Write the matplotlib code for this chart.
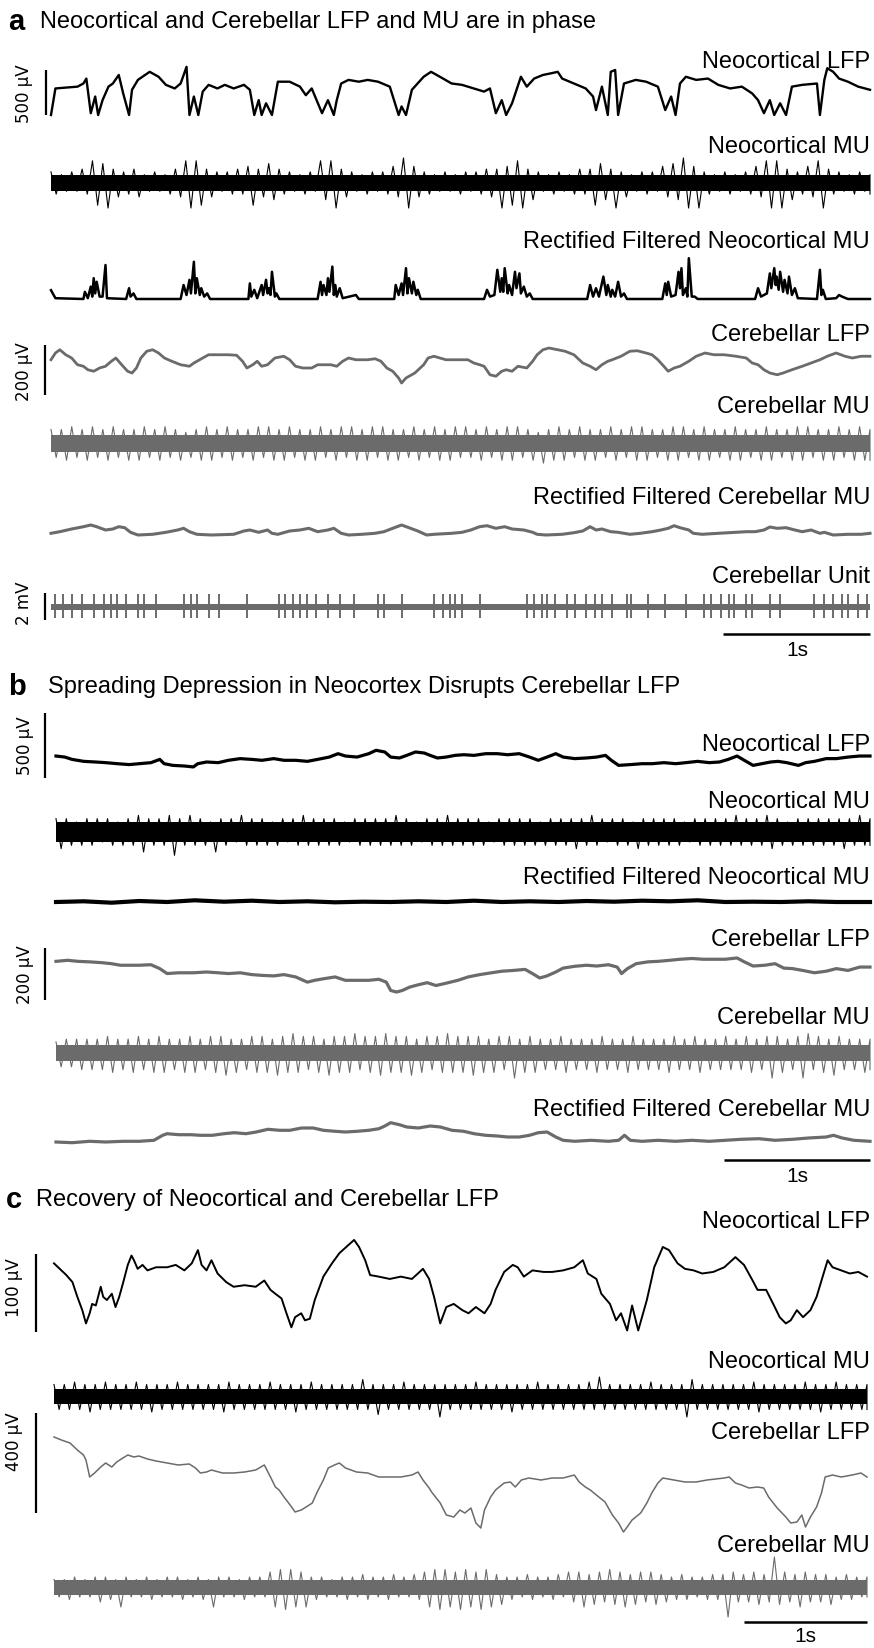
import numpy as np
import matplotlib
matplotlib.use('Agg')
import matplotlib.pyplot as plt
from matplotlib import font_manager

# ---------------- data ----------------
# panel a: neocortical LFP (s, uV)
a_neo_lfp_t = [0.00, 0.03, 0.18, 0.22, 0.24, 0.27, 0.30, 0.32, 0.35, 0.39, 0.42, 0.46, 0.49, 0.53, 0.55,
               0.59, 0.67, 0.73, 0.78, 0.84, 0.88, 0.92, 0.94, 0.97, 1.00, 1.03, 1.07, 1.13, 1.18, 1.24,
               1.31, 1.35, 1.38, 1.41, 1.43, 1.46, 1.50, 1.54, 1.62, 1.69, 1.73, 1.77, 1.84, 1.88, 1.92,
               1.94, 1.97, 2.02, 2.09, 2.15, 2.22, 2.30, 2.36, 2.38, 2.41, 2.45, 2.53, 2.58, 2.64, 2.72,
               2.79, 2.87, 2.94, 2.98, 3.02, 3.06, 3.09, 3.13, 3.19, 3.23, 3.28, 3.34, 3.40, 3.44, 3.47,
               3.55, 3.63, 3.68, 3.70, 3.74, 3.78, 3.80, 3.83, 3.85, 3.89, 3.97, 4.04, 4.12, 4.17, 4.21,
               4.24, 4.27, 4.31, 4.38, 4.46, 4.53, 4.61, 4.69, 4.76, 4.80, 4.84, 4.88, 4.91, 4.95, 4.99,
               5.03, 5.10, 5.20, 5.22, 5.25, 5.27, 5.31, 5.35, 5.41, 5.48, 5.56]
a_neo_lfp_v = [0, 295, 315, 350, 405, 20, 205, 0, 165, 315, 350, 445, 240, 0, 280,
               390, 480, 425, 335, 295, 350, 535, 0, 205, 0, 260, 335, 295, 335, 295,
               335, 280, 0, 165, 0, 130, 0, 370, 370, 315, 220, 295, 20, 165, 0,
               165, 350, 390, 370, 390, 370, 315, 0, 95, 0, 280, 425, 480, 425, 350,
               335, 295, 260, 295, 20, 165, 0, 130, 425, 315, 405, 445, 465, 480, 405,
               350, 295, 205, 55, 315, 0, 480, 500, 0, 350, 390, 370, 315, 55, 205,
               0, 350, 425, 390, 405, 335, 295, 315, 240, 165, 20, 165, 0, 130, 0,
               315, 335, 350, 0, 390, 520, 480, 405, 370, 315, 280]

# panel a: neocortical MU envelope (a.u., core = 3)
a_neo_mu_top = [4, 3, 4, 5, 8, 7, 5, 4, 5, 3, 4, 3, 5, 8, 8, 5, 4, 4, 5, 6,
                5, 7, 5, 4, 3, 4, 8, 8, 5, 4, 3, 4, 4, 6, 9, 6, 4, 3, 4, 3,
                4, 4, 5, 5, 6, 8, 5, 4, 3, 4, 3, 5, 5, 7, 5, 4, 3, 4, 4, 6,
                7, 9, 6, 4, 3, 4, 3, 4, 6, 8, 8, 5, 4, 6, 8, 5, 4, 3, 4, 3]
a_neo_mu_bot = [4, 3, 3, 4, 8, 9, 5, 4, 5, 3, 3, 4, 5, 9, 8, 5, 3, 4, 4, 8,
                5, 6, 4, 3, 4, 3, 6, 9, 5, 3, 4, 3, 4, 5, 9, 5, 4, 3, 3, 4,
                3, 4, 5, 9, 8, 9, 6, 3, 4, 3, 4, 4, 8, 6, 9, 5, 3, 4, 3, 5,
                6, 9, 9, 4, 3, 4, 3, 4, 5, 9, 9, 6, 4, 5, 9, 4, 3, 4, 3, 4]

# panel a: rectified filtered neocortical MU (a.u.)
a_neo_rect_t = [0.00, 0.03, 0.22, 0.23, 0.25, 0.27, 0.28, 0.29, 0.30, 0.31, 0.33, 0.35, 0.37, 0.38, 0.51,
                0.53, 0.54, 0.56, 0.58, 0.88, 0.90, 0.92, 0.94, 0.95, 0.97, 0.98, 0.99, 1.01, 1.02, 1.04,
                1.06, 1.08, 1.34, 1.35, 1.36, 1.38, 1.40, 1.43, 1.44, 1.46, 1.47, 1.48, 1.49, 1.50, 1.52,
                1.53, 1.55, 1.81, 1.83, 1.84, 1.85, 1.87, 1.88, 1.89, 1.91, 1.92, 1.93, 1.94, 1.96, 1.98,
                2.07, 2.09, 2.33, 2.34, 2.36, 2.38, 2.39, 2.41, 2.42, 2.43, 2.45, 2.46, 2.48, 2.49, 2.51,
                2.94, 2.96, 2.98, 3.01, 3.03, 3.05, 3.06, 3.07, 3.08, 3.10, 3.11, 3.13, 3.15, 3.16, 3.18,
                3.19, 3.21, 3.23, 3.25, 3.27, 3.64, 3.66, 3.68, 3.70, 3.72, 3.75, 3.77, 3.78, 3.80, 3.81,
                3.83, 3.85, 3.87, 3.89, 3.91, 4.15, 4.17, 4.18, 4.19, 4.21, 4.24, 4.26, 4.27, 4.28, 4.29,
                4.31, 4.32, 4.33, 4.35, 4.37, 4.39, 4.78, 4.80, 4.82, 4.86, 4.88, 4.89, 4.91, 4.92, 4.925,
                4.94, 4.95, 4.97, 4.98, 5.00, 5.01, 5.03, 5.05, 5.07, 5.20, 5.22, 5.23, 5.24, 5.26, 5.33,
                5.35, 5.37, 5.41, 5.56]
a_neo_rect_v = [2.2, 0.2, 0, 1.8, 0.2, 3.1, 0.6, 5.2, 1.4, 4.3, 0.6, 0.6, 8.5, 0.2, 0,
                2.7, 0.6, 1.4, 0, 0, 3.5, 1.0, 4.8, 1.4, 9.3, 1.4, 5.2, 1.0, 2.7, 0.6,
                1.4, 0, 0, 3.9, 0.6, 2.3, 0.2, 3.5, 1.0, 4.8, 1.4, 2.7, 1.0, 6.8, 0.6,
                1.4, 0, 0, 4.3, 1.0, 3.5, 1.0, 5.2, 1.8, 8.1, 1.0, 3.5, 0.6, 2.7, 0.2,
                1.0, 0, 0, 3.5, 1.0, 3.9, 1.0, 7.7, 1.4, 5.2, 1.4, 4.3, 1.0, 2.3, 0,
                0, 2.3, 0.6, 1.0, 7.3, 1.8, 5.2, 1.8, 7.7, 1.4, 3.5, 1.0, 6.8, 2.7, 6.4,
                1.4, 3.1, 0.6, 1.4, 0, 0, 3.5, 0.6, 2.7, 0.6, 5.6, 1.0, 3.5, 0.6, 2.3,
                0.6, 4.3, 0.6, 1.4, 0, 0, 3.9, 1.0, 4.3, 0.6, 1.0, 6.8, 2.7, 7.7, 1.0,
                2.7, 0.6, 10.2, 0.6, 0.6, 0, 0, 2.7, 0.6, 1.4, 6.4, 2.7, 7.7, 3.5, 5.6,
                2.3, 6.8, 1.8, 4.8, 1.4, 5.6, 1.0, 2.7, 0.2, 0, 7.3, 1.0, 2.3, 0, 0.2,
                1.0, 0.6, 0, 0]

# panel a: cerebellar LFP (s, uV)
a_cer_lfp_t = [0.00, 0.03, 0.06, 0.10, 0.14, 0.18, 0.22, 0.25, 0.29, 0.33, 0.37, 0.41, 0.44, 0.48, 0.52,
               0.55, 0.58, 0.61, 0.65, 0.69, 0.73, 0.77, 0.82, 0.88, 0.94, 0.97, 1.03, 1.07, 1.13, 1.20,
               1.26, 1.30, 1.33, 1.37, 1.40, 1.43, 1.47, 1.52, 1.58, 1.62, 1.66, 1.71, 1.77, 1.81, 1.86,
               1.90, 1.94, 1.98, 2.02, 2.07, 2.15, 2.20, 2.24, 2.28, 2.32, 2.36, 2.38, 2.41, 2.47, 2.53,
               2.56, 2.60, 2.68, 2.75, 2.83, 2.87, 2.91, 2.94, 2.98, 3.02, 3.06, 3.09, 3.13, 3.17, 3.23,
               3.27, 3.30, 3.34, 3.38, 3.44, 3.49, 3.55, 3.61, 3.66, 3.70, 3.74, 3.78, 3.81, 3.87, 3.93,
               3.98, 4.04, 4.08, 4.12, 4.16, 4.19, 4.23, 4.27, 4.33, 4.38, 4.44, 4.50, 4.57, 4.65, 4.72,
               4.76, 4.80, 4.84, 4.88, 4.93, 4.97, 5.03, 5.10, 5.16, 5.22, 5.27, 5.33, 5.39, 5.44, 5.50,
               5.56]
a_cer_lfp_v = [33, 60, 73, 53, 40, 13, 7, -7, -13, 0, 7, 27, 40, 13, -13,
               -20, 0, 40, 67, 73, 60, 40, 27, 13, 7, 20, 40, 53, 53, 53,
               51, 27, 0, 13, 27, 7, 13, 40, 47, 33, 7, 0, 0, 13, 13,
               13, 7, 27, 40, 33, 33, 37, 27, 0, -13, -40, -60, -40, -20, 13,
               40, 47, 33, 33, 33, 20, 13, 7, -27, -33, -13, -7, -13, 7, 0,
               27, 53, 73, 80, 73, 67, 53, 20, 7, -7, 13, 27, 33, 47, 67,
               69, 60, 53, 33, 7, -13, 0, 7, 27, 47, 60, 53, 53, 47, 40,
               20, 13, -7, -20, -27, -20, -7, 7, 20, 33, 47, 60, 47, 40, 47,
               47]

# panel a: cerebellar MU envelope (a.u., core = 3)
a_cer_mu_top = [5, 5, 6, 5, 6, 5, 6, 5, 5, 6, 5, 6, 5, 4, 5, 6, 5, 6, 5, 5,
                6, 6, 5, 6, 5, 5, 6, 5, 6, 6, 5, 6, 6, 5, 5, 6, 5, 6, 5, 6,
                6, 5, 6, 5, 6, 6, 5, 4, 5, 6, 5, 6, 5, 5, 6, 5, 6, 6, 5, 5,
                6, 6, 5, 6, 5, 5, 6, 5, 5, 6, 5, 5, 6, 6, 5, 5, 6, 5, 6, 5]
a_cer_mu_bot = [5, 6, 5, 6, 5, 6, 5, 6, 6, 5, 6, 5, 6, 5, 6, 6, 5, 6, 5, 6,
                5, 6, 6, 5, 6, 6, 5, 6, 5, 6, 6, 5, 6, 6, 5, 6, 5, 6, 6, 5,
                5, 6, 5, 6, 6, 5, 6, 7, 6, 6, 5, 6, 6, 5, 6, 5, 6, 6, 5, 6,
                6, 5, 6, 6, 5, 6, 6, 5, 6, 6, 5, 6, 6, 5, 6, 6, 5, 6, 6, 6]

# panel a: rectified filtered cerebellar MU (a.u.)
a_cer_rect_t = [0.00, 0.06, 0.14, 0.22, 0.27, 0.31, 0.37, 0.42, 0.46, 0.50, 0.54, 0.59, 0.69, 0.78, 0.86,
                0.90, 0.94, 0.99, 1.09, 1.24, 1.31, 1.35, 1.41, 1.47, 1.50, 1.54, 1.62, 1.69, 1.75, 1.81,
                1.88, 1.92, 1.97, 2.02, 2.11, 2.20, 2.26, 2.32, 2.38, 2.43, 2.49, 2.55, 2.60, 2.72, 2.79,
                2.85, 2.91, 2.96, 3.02, 3.08, 3.13, 3.21, 3.27, 3.30, 3.36, 3.47, 3.55, 3.61, 3.66, 3.70,
                3.74, 3.80, 3.85, 3.93, 4.00, 4.08, 4.14, 4.19, 4.23, 4.27, 4.33, 4.36, 4.42, 4.53, 4.65,
                4.72, 4.78, 4.84, 4.88, 4.93, 4.99, 5.05, 5.10, 5.16, 5.22, 5.25, 5.31, 5.41, 5.50, 5.56]
a_cer_rect_v = [1.7, 3.3, 6.0, 8.3, 10.0, 8.3, 5.0, 6.0, 8.3, 7.3, 2.7, 0, 0.7, 2.7, 5.0,
                6.7, 3.3, 0.7, 0, 0.7, 4.0, 5.0, 2.7, 5.0, 1.7, 0.7, 4.0, 5.0, 6.7, 3.3,
                5.0, 6.7, 1.7, 0, 0.7, 1.7, 3.3, 6.7, 10.0, 7.3, 4.0, 0, 0.7, 1.7, 2.7,
                5.0, 8.3, 9.3, 6.7, 8.3, 6.0, 5.0, 2.7, 0.7, 0, 0.7, 2.3, 4.0, 8.3, 5.0,
                6.0, 3.3, 2.7, 0.7, 1.7, 3.3, 5.0, 6.7, 9.3, 7.3, 5.0, 1.7, 0.7, 1.7, 2.7,
                3.3, 3.3, 5.0, 8.0, 6.7, 7.3, 5.0, 3.3, 5.0, 1.7, 2.7, 0, 0.7, 0.7, 1.7]

# panel a: cerebellar single unit (spike times in s, amplitudes in mV)
unit_spike_t = [0.03, 0.08, 0.14, 0.21, 0.29, 0.36, 0.41, 0.45, 0.51, 0.59, 0.63, 0.71, 0.90, 0.95, 0.99,
                1.07, 1.14, 1.33, 1.55, 1.59, 1.64, 1.69, 1.74, 1.80, 1.88, 1.96, 2.06, 2.22, 2.26, 2.38,
                2.60, 2.66, 2.71, 2.74, 2.79, 2.91, 3.23, 3.28, 3.33, 3.37, 3.42, 3.50, 3.56, 3.63, 3.69,
                3.74, 3.81, 3.91, 3.94, 4.05, 4.17, 4.31, 4.43, 4.48, 4.55, 4.60, 4.64, 4.72, 4.76, 4.88,
                4.95, 5.18, 5.25, 5.31, 5.37, 5.41, 5.48, 5.54]
unit_spike_up = 0.95
unit_spike_down = 0.85
unit_noise = 0.25

# panel b: neocortical LFP (s, uV)
b_neo_lfp_t = [0.00, 0.06, 0.11, 0.19, 0.27, 0.34, 0.42, 0.50, 0.57, 0.65, 0.71, 0.74, 0.80, 0.88, 0.94,
               0.97, 1.03, 1.11, 1.18, 1.26, 1.34, 1.41, 1.49, 1.56, 1.64, 1.72, 1.79, 1.87, 1.93, 1.98,
               2.06, 2.14, 2.19, 2.25, 2.29, 2.35, 2.40, 2.46, 2.52, 2.56, 2.61, 2.67, 2.73, 2.79, 2.86,
               2.94, 3.02, 3.09, 3.17, 3.24, 3.30, 3.36, 3.42, 3.47, 3.55, 3.63, 3.70, 3.76, 3.80, 3.85,
               3.93, 4.01, 4.08, 4.16, 4.24, 4.31, 4.39, 4.47, 4.54, 4.60, 4.66, 4.71, 4.77, 4.83, 4.89,
               4.94, 5.00, 5.08, 5.13, 5.19, 5.27, 5.34, 5.42, 5.50, 5.57]
b_neo_lfp_v = [46, 38, 20, 5, 0, -5, -13, -20, -13, -5, 20, -13, -26, -31, -38,
               -13, 0, -5, 13, 26, 20, 13, 26, 13, 13, 5, 20, 38, 64, 46,
               38, 64, 90, 77, 38, 31, 51, 77, 69, 51, 31, 38, 51, 56, 51,
               64, 64, 56, 64, 38, 13, 38, 64, 38, 26, 31, 38, 51, 13, -26,
               -20, -13, -13, -5, -13, -5, 5, -5, 0, 20, 46, 13, -26, -13, 0,
               5, -5, -26, -5, 5, 26, 26, 38, 46, 46]

b_neo_mu_top = [4, 4, 3, 4, 4, 4, 3, 4, 5, 4, 4, 5, 4, 5, 4, 3, 4, 4, 5, 4,
                4, 3, 4, 4, 5, 4, 4, 4, 3, 4, 4, 4, 4, 5, 4, 3, 4, 4, 5, 4,
                4, 4, 3, 4, 4, 4, 4, 3, 4, 4, 4, 4, 5, 4, 4, 4, 3, 4, 4, 4,
                4, 3, 4, 4, 4, 4, 5, 4, 4, 5, 4, 3, 4, 4, 4, 4, 4, 4, 5, 4]
b_neo_mu_bot = [5, 4, 4, 4, 3, 4, 4, 4, 6, 4, 4, 7, 4, 4, 4, 6, 4, 3, 4, 4,
                4, 4, 3, 4, 4, 4, 4, 4, 3, 4, 4, 4, 4, 4, 4, 3, 4, 4, 4, 4,
                4, 4, 3, 4, 4, 4, 4, 4, 4, 4, 5, 4, 4, 3, 4, 4, 5, 4, 4, 4,
                4, 3, 4, 4, 4, 4, 4, 4, 4, 5, 4, 4, 4, 4, 4, 4, 5, 4, 4, 4]

b_neo_rect_t = [0, 0.19, 0.38, 0.57, 0.76, 0.95, 1.15, 1.34, 1.53, 1.72, 1.91, 2.10, 2.29, 2.48, 2.67,
                2.86, 3.05, 3.24, 3.44, 3.63, 3.82, 4.01, 4.20, 4.39, 4.58, 4.77, 4.96, 5.15, 5.34, 5.57]
b_neo_rect_v = [0, 0.7, -0.7, 1, 0, 1.7, 0.3, 1.3, 0, 0.7, -0.3, 0.3, 0, 0.7, 0,
                1.3, 0, 0.7, 0, 1, 0.3, 1.3, 0.7, 1.7, 0, 0.3, 0, 0.7, 0, 0]

b_cer_lfp_t = [0.00, 0.08, 0.15, 0.23, 0.31, 0.38, 0.44, 0.50, 0.57, 0.65, 0.71, 0.76, 0.84, 0.94, 1.03,
               1.11, 1.18, 1.26, 1.34, 1.41, 1.49, 1.56, 1.64, 1.72, 1.77, 1.83, 1.91, 1.98, 2.06, 2.14,
               2.21, 2.26, 2.29, 2.33, 2.37, 2.42, 2.48, 2.54, 2.60, 2.67, 2.75, 2.82, 2.90, 2.98, 3.05,
               3.13, 3.21, 3.26, 3.31, 3.36, 3.42, 3.47, 3.55, 3.63, 3.70, 3.78, 3.84, 3.87, 3.91, 3.97,
               4.05, 4.12, 4.20, 4.27, 4.35, 4.43, 4.50, 4.58, 4.66, 4.71, 4.77, 4.85, 4.92, 4.98, 5.04,
               5.11, 5.19, 5.27, 5.34, 5.42, 5.50, 5.57]
b_cer_lfp_v = [41, 45, 41, 39, 36, 32, 26, 26, 26, 28, 13, -6, -3, -3, 0,
               -3, -6, -3, -10, -13, -15, -10, -19, -39, -32, -26, -19, -32, -32, -32,
               -28, -39, -71, -77, -71, -58, -49, -41, -52, -43, -32, -19, -10, -3, 3,
               6, 10, -6, -23, -15, 0, 15, 22, 26, 23, 28, 19, -6, 13, 32,
               39, 41, 45, 49, 52, 49, 49, 49, 54, 39, 23, 26, 32, 15, 13,
               6, -3, 3, 13, 6, 19, 19]

b_cer_mu_top = [4, 5, 5, 5, 5, 6, 5, 5, 6, 5, 6, 5, 5, 6, 5, 6, 6, 5, 5, 6,
                6, 5, 6, 7, 6, 6, 5, 6, 6, 7, 6, 6, 7, 6, 6, 5, 6, 6, 7, 6,
                6, 6, 5, 6, 6, 5, 6, 5, 5, 6, 5, 5, 5, 6, 5, 5, 6, 5, 5, 5,
                6, 5, 6, 5, 5, 6, 5, 6, 5, 6, 6, 5, 6, 7, 6, 5, 6, 5, 5, 5]
b_cer_mu_bot = [5, 5, 6, 6, 6, 7, 6, 7, 6, 7, 7, 6, 7, 7, 6, 7, 8, 7, 6, 7,
                7, 8, 7, 7, 6, 7, 8, 7, 7, 6, 7, 8, 7, 7, 8, 7, 6, 7, 7, 7,
                8, 7, 7, 6, 9, 7, 7, 6, 6, 7, 6, 6, 7, 6, 6, 7, 6, 6, 6, 7,
                6, 6, 7, 6, 6, 6, 6, 7, 6, 9, 7, 6, 9, 6, 7, 8, 6, 6, 7, 6]

b_cer_rect_t = [0, 0.11, 0.23, 0.34, 0.46, 0.57, 0.67, 0.73, 0.76, 0.84, 0.92, 0.99, 1.07, 1.15, 1.22,
                1.30, 1.37, 1.45, 1.53, 1.60, 1.68, 1.76, 1.83, 1.91, 1.98, 2.06, 2.14, 2.21, 2.25, 2.29,
                2.35, 2.40, 2.48, 2.56, 2.63, 2.71, 2.79, 2.86, 2.94, 3.02, 3.09, 3.17, 3.24, 3.30, 3.36,
                3.42, 3.47, 3.55, 3.66, 3.78, 3.85, 3.89, 3.93, 4.01, 4.12, 4.24, 4.35, 4.47, 4.58, 4.69,
                4.81, 4.92, 5.04, 5.15, 5.27, 5.32, 5.38, 5.46, 5.57]
b_cer_rect_v = [0, -0.7, 0.7, 0, 0.7, 0.7, 1.7, 6.7, 8.3, 7.3, 7.3, 6.7, 6.7, 8.3, 9.3,
                8.3, 10, 12.7, 11.7, 11.7, 14, 14, 11.7, 10.7, 10, 10.7, 11.7, 13.3, 16, 19.3,
                17.3, 15, 14, 16, 15, 11.7, 10.7, 8.3, 6.7, 6, 5, 5, 6.7, 9.3, 10,
                5, 1.7, 0.7, 1.7, 0.7, 1.7, 6.7, 1.7, 0.7, 1.7, 0.7, 1.7, 0.7, 1.7, 2.7,
                3.3, 1.7, 2.7, 4, 5, 6.7, 4, 1.7, 0.7]

# panel c
c_neo_lfp_t = [0.00, 0.06, 0.10, 0.15, 0.19, 0.23, 0.26, 0.29, 0.31, 0.34, 0.38, 0.40, 0.43, 0.47, 0.50,
               0.53, 0.56, 0.60, 0.63, 0.65, 0.68, 0.72, 0.76, 0.83, 0.92, 0.99, 1.06, 1.12, 1.17, 1.20,
               1.24, 1.28, 1.33, 1.40, 1.46, 1.55, 1.64, 1.71, 1.76, 1.80, 1.85, 1.89, 1.93, 1.96, 2.01,
               2.04, 2.08, 2.12, 2.19, 2.26, 2.32, 2.39, 2.44, 2.48, 2.53, 2.57, 2.64, 2.73, 2.82, 2.91,
               3.00, 3.05, 3.09, 3.14, 3.19, 3.25, 3.32, 3.37, 3.43, 3.50, 3.55, 3.59, 3.66, 3.73, 3.77,
               3.82, 3.89, 3.98, 4.05, 4.14, 4.23, 4.30, 4.34, 4.41, 4.45, 4.52, 4.57, 4.61, 4.66, 4.70,
               4.75, 4.82, 4.88, 4.95, 5.00, 5.07, 5.13, 5.20, 5.27, 5.36, 5.45, 5.54, 5.61, 5.68, 5.72,
               5.79, 5.86, 5.90, 5.95, 5.99, 6.04, 6.09, 6.15, 6.20, 6.24, 6.29, 6.33, 6.40, 6.47, 6.54,
               6.61]
c_neo_lfp_v = [88, 79, 73, 64, 45, 28, 11, 24, 36, 34, 58, 45, 41, 49, 32,
               45, 62, 86, 98, 92, 81, 86, 79, 83, 83, 86, 79, 88, 105, 86,
               79, 92, 75, 64, 58, 60, 58, 66, 54, 49, 43, 24, 6, 19, 24,
               15, 17, 41, 71, 88, 101, 111, 118, 109, 92, 73, 71, 68, 71, 68,
               81, 68, 45, 11, 32, 36, 28, 24, 32, 24, 36, 54, 77, 86, 83,
               71, 79, 77, 77, 79, 83, 92, 75, 68, 49, 36, 15, 24, 2, 34,
               2, 41, 83, 109, 105, 88, 81, 79, 75, 77, 83, 96, 86, 66, 54,
               54, 32, 19, 11, 15, 28, 19, 28, 45, 66, 92, 83, 79, 75, 77,
               71]

c_neo_mu_top = [5, 5, 6, 5, 5, 6, 5, 5, 6, 5, 5, 5, 6, 5, 5, 5, 5, 6, 5, 5,
                5, 6, 5, 5, 5, 6, 5, 5, 5, 5, 7, 5, 5, 5, 6, 5, 5, 5, 5, 5,
                5, 6, 5, 5, 5, 5, 5, 6, 5, 5, 5, 5, 6, 8, 5, 5, 5, 5, 6, 5,
                5, 5, 7, 5, 5, 5, 5, 5, 6, 5, 5, 5, 5, 6, 5, 5, 6, 5, 5, 5]
c_neo_mu_bot = [5, 5, 5, 6, 5, 5, 5, 5, 5, 6, 5, 5, 5, 5, 5, 5, 6, 5, 5, 5,
                5, 5, 5, 6, 5, 5, 5, 5, 5, 5, 5, 7, 5, 5, 5, 5, 5, 8, 5, 5,
                5, 5, 5, 5, 6, 5, 5, 5, 5, 5, 5, 5, 5, 5, 5, 5, 5, 5, 5, 5,
                5, 8, 5, 5, 5, 5, 5, 5, 6, 5, 5, 5, 5, 5, 6, 5, 5, 5, 5, 5]

c_cer_lfp_t = [0.00, 0.06, 0.13, 0.19, 0.24, 0.26, 0.29, 0.33, 0.38, 0.42, 0.47, 0.51, 0.56, 0.60, 0.65,
               0.69, 0.76, 0.83, 0.92, 1.01, 1.10, 1.15, 1.19, 1.24, 1.28, 1.37, 1.46, 1.55, 1.64, 1.71,
               1.76, 1.80, 1.83, 1.87, 1.92, 1.96, 2.01, 2.05, 2.10, 2.14, 2.19, 2.23, 2.28, 2.32, 2.37,
               2.46, 2.55, 2.64, 2.73, 2.82, 2.91, 2.96, 3.00, 3.05, 3.07, 3.14, 3.19, 3.25, 3.30, 3.34,
               3.39, 3.43, 3.47, 3.50, 3.55, 3.59, 3.62, 3.66, 3.71, 3.75, 3.80, 3.86, 3.96, 4.05, 4.14,
               4.23, 4.27, 4.32, 4.36, 4.41, 4.48, 4.54, 4.59, 4.63, 4.66, 4.70, 4.77, 4.82, 4.86, 4.91,
               4.95, 5.04, 5.13, 5.22, 5.31, 5.45, 5.49, 5.54, 5.59, 5.65, 5.72, 5.77, 5.81, 5.88, 5.95,
               5.99, 6.04, 6.08, 6.11, 6.15, 6.20, 6.24, 6.27, 6.33, 6.40, 6.49, 6.56, 6.61]
c_cer_lfp_v = [304, 292, 280, 252, 232, 212, 144, 160, 184, 200, 184, 204, 220, 232, 224,
               228, 216, 208, 200, 192, 196, 180, 160, 164, 172, 160, 160, 164, 172, 192,
               144, 104, 92, 64, 32, 4, 12, 24, 40, 84, 132, 180, 192, 200, 180,
               164, 160, 144, 144, 144, 152, 164, 132, 100, 84, 40, -8, -16, 12, 0,
               20, -40, -60, 12, 64, 92, 104, 120, 124, 104, 132, 140, 132, 140, 140,
               152, 124, 104, 92, 72, 44, -8, -40, -76, -56, -28, 0, 40, 80, 120,
               140, 132, 124, 124, 132, 140, 144, 120, 112, 100, 104, 100, 64, 20, -16,
               -40, -36, -8, -56, -16, 24, 80, 144, 152, 144, 152, 160, 144]

c_cer_mu_top = [3, 3, 4, 3, 4, 4, 3, 4, 3, 4, 3, 4, 4, 3, 4, 3, 4, 4, 3, 4,
                4, 6, 7, 7, 6, 4, 4, 3, 4, 4, 5, 4, 4, 5, 4, 5, 6, 7, 7, 6,
                7, 6, 7, 5, 4, 4, 5, 4, 4, 5, 6, 6, 5, 6, 7, 6, 5, 6, 6, 5,
                4, 5, 4, 4, 5, 5, 6, 5, 6, 5, 12, 6, 5, 6, 5, 5, 4, 5, 4, 4]
c_cer_mu_bot = [4, 5, 4, 4, 6, 5, 8, 4, 4, 5, 4, 4, 5, 4, 5, 8, 4, 4, 5, 4,
                4, 8, 9, 8, 8, 5, 4, 4, 5, 4, 5, 4, 5, 4, 4, 5, 8, 9, 8, 9,
                8, 9, 8, 7, 5, 4, 5, 4, 5, 4, 6, 8, 7, 6, 7, 8, 7, 6, 7, 6,
                5, 5, 4, 5, 5, 12, 6, 6, 7, 6, 7, 6, 8, 6, 6, 7, 5, 5, 4, 4]

# ---------------- layout (pixels of the 874 x 1648 figure) ----------------
W, H = 874, 1648
BLACK = '#000000'
GREY = '#6b6b6b'

installed = {f.name for f in font_manager.fontManager.ttflist}
SANS = 'Liberation Sans' if 'Liberation Sans' in installed else 'DejaVu Sans'

PANELS = {
    'a': dict(x0=51, x1=870, dur=5.56),
    'b': dict(x0=56, x1=870, dur=5.57),
    'c': dict(x0=54, x1=867, dur=6.61),
}


def trace_axes(fig, panel, y_zero, px_per_unit, span=260):
    p = PANELS[panel]
    ax = fig.add_axes([p['x0'] / W, 1 - (y_zero + span / 2) / H,
                       (p['x1'] - p['x0']) / W, span / H])
    ax.set_xlim(0, p['dur'])
    half = span / 2 / px_per_unit
    ax.set_ylim(-half, half)
    ax.axis('off')
    ax.patch.set_visible(False)
    ax.zero = y_zero
    ax.k = px_per_unit
    ax.panel = panel
    return ax


def to_data(ax, x_px, y_px):
    p = PANELS[ax.panel]
    pxps = (p['x1'] - p['x0']) / p['dur']
    return (x_px - p['x0']) / pxps, (ax.zero - y_px) / ax.k


def draw_line(ax, t, v, color, lw):
    assert len(t) == len(v), (len(t), len(v))
    ax.plot(t, v, color=color, lw=lw, clip_on=False)


def draw_mu(ax, top, bot, color, core=3.0, lw=0.8):
    # raw multi-unit signal: alternate between the upper and lower envelope
    dur = PANELS[ax.panel]['dur']
    t_top = np.linspace(0, dur, len(top))
    half_step = dur / (len(bot) - 1) / 2
    t_bot = np.clip(np.linspace(0, dur, len(bot)) + half_step, 0, dur)
    t = np.concatenate([t_top, t_bot])
    y = np.concatenate([np.asarray(top, float), -np.asarray(bot, float)])
    order = np.argsort(t, kind='stable')
    ax.plot(t[order], y[order], color=color, lw=lw, clip_on=False)
    ax.fill_between([0, dur], -core, core, color=color, lw=0)


def scale_bar(ax, x_px, y_bottom_px, value):
    t, v0 = to_data(ax, x_px, y_bottom_px)
    ax.plot([t, t], [v0, v0 + value], color='black', lw=1.6,
            solid_capstyle='butt', clip_on=False)


def time_bar(ax, y_px):
    dur = PANELS[ax.panel]['dur']
    _, v = to_data(ax, 0, y_px)
    ax.plot([dur - 1, dur], [v, v], color='black', lw=1.8,
            solid_capstyle='butt', clip_on=False)


def ftext(fig, x, y, s, **kw):
    kw.setdefault('family', SANS)
    fig.text(x / W, 1 - y / H, s, **kw)


def main():
    fig = plt.figure(figsize=(W / 100, H / 100), dpi=100)

    # ---- panel a ----
    ax = trace_axes(fig, 'a', 115, 0.09)
    draw_line(ax, a_neo_lfp_t, a_neo_lfp_v, BLACK, 1.7)
    scale_bar(ax, 46, 115, 500)

    ax = trace_axes(fig, 'a', 183, 2.78)
    draw_mu(ax, a_neo_mu_top, a_neo_mu_bot, BLACK)

    ax = trace_axes(fig, 'a', 299, 4.0)
    draw_line(ax, a_neo_rect_t, a_neo_rect_v, BLACK, 1.8)

    ax = trace_axes(fig, 'a', 368, 0.25)
    draw_line(ax, a_cer_lfp_t, a_cer_lfp_v, GREY, 2.0)
    scale_bar(ax, 45, 395, 200)

    ax = trace_axes(fig, 'a', 443.5, 2.8)
    draw_mu(ax, a_cer_mu_top, a_cer_mu_bot, GREY)

    ax = trace_axes(fig, 'a', 535, 1.0)
    draw_line(ax, a_cer_rect_t, a_cer_rect_v, GREY, 2.2)

    ax = trace_axes(fig, 'a', 607, 13.5)
    dur = PANELS['a']['dur']
    ax.fill_between([0, dur], -unit_noise, unit_noise, color=GREY, lw=0)
    ax.vlines(unit_spike_t, -unit_spike_down, unit_spike_up, color=GREY, lw=1.4)
    scale_bar(ax, 45, 620, 2)
    time_bar(ax, 634)

    # ---- panel b ----
    ax = trace_axes(fig, 'b', 762, 0.13)
    draw_line(ax, b_neo_lfp_t, b_neo_lfp_v, BLACK, 2.3)
    scale_bar(ax, 45, 778, 500)

    ax = trace_axes(fig, 'b', 832, 3.33)
    draw_mu(ax, b_neo_mu_top, b_neo_mu_bot, BLACK)

    ax = trace_axes(fig, 'b', 902, 1.0)
    draw_line(ax, b_neo_rect_t, b_neo_rect_v, BLACK, 3.0)

    ax = trace_axes(fig, 'b', 972, 0.26)
    draw_line(ax, b_cer_lfp_t, b_cer_lfp_v, GREY, 2.3)
    scale_bar(ax, 45, 1000, 200)

    ax = trace_axes(fig, 'b', 1053, 2.78)
    draw_mu(ax, b_cer_mu_top, b_cer_mu_bot, GREY)

    ax = trace_axes(fig, 'b', 1142, 1.0)
    draw_line(ax, b_cer_rect_t, b_cer_rect_v, GREY, 2.3)
    time_bar(ax, 1160)

    # ---- panel c ----
    ax = trace_axes(fig, 'c', 1332, 0.78)
    draw_line(ax, c_neo_lfp_t, c_neo_lfp_v, BLACK, 1.4)
    scale_bar(ax, 36, 1332, 100)

    ax = trace_axes(fig, 'c', 1397, 2.5)
    draw_mu(ax, c_neo_mu_top, c_neo_mu_bot, BLACK)

    ax = trace_axes(fig, 'c', 1513, 0.25)
    draw_line(ax, c_cer_lfp_t, c_cer_lfp_v, GREY, 1.1)
    scale_bar(ax, 36, 1513, 400)

    ax = trace_axes(fig, 'c', 1587, 2.5)
    draw_mu(ax, c_cer_mu_top, c_cer_mu_bot, GREY)
    time_bar(ax, 1622)

    # ---- titles ----
    for letter, lx, tx, y, title in [
            ('a', 8, 40, 22, 'Neocortical and Cerebellar LFP and MU are in phase'),
            ('b', 8, 48, 687, 'Spreading Depression in Neocortex Disrupts Cerebellar LFP'),
            ('c', 6, 36, 1200, 'Recovery of Neocortical and Cerebellar LFP')]:
        ftext(fig, lx, y, letter, fontsize=21, fontweight='bold', ha='left', va='center')
        ftext(fig, tx, y, title, fontsize=17, ha='left', va='center')

    # ---- trace labels ----
    for y, s in [(62, 'Neocortical LFP'), (147, 'Neocortical MU'),
                 (242, 'Rectified Filtered Neocortical MU'), (335, 'Cerebellar LFP'),
                 (407, 'Cerebellar MU'), (498, 'Rectified Filtered Cerebellar MU'),
                 (577, 'Cerebellar Unit'),
                 (745, 'Neocortical LFP'), (802, 'Neocortical MU'),
                 (878, 'Rectified Filtered Neocortical MU'), (940, 'Cerebellar LFP'),
                 (1018, 'Cerebellar MU'), (1110, 'Rectified Filtered Cerebellar MU'),
                 (1222, 'Neocortical LFP'), (1362, 'Neocortical MU'),
                 (1433, 'Cerebellar LFP'), (1546, 'Cerebellar MU')]:
        ftext(fig, 870, y, s, fontsize=17, ha='right', va='center')

    # ---- scale-bar labels ----
    for x, y, s in [(24, 94, '500 µV'), (24, 372, '200 µV'), (24, 603, '2 mV'),
                    (25, 746, '500 µV'), (25, 975, '200 µV'),
                    (14, 1288, '100 µV'), (14, 1442, '400 µV')]:
        ftext(fig, x, y, s, family='DejaVu Sans', fontsize=12, rotation=90,
              ha='center', va='center')

    for x, y in [(797, 650), (797, 1177), (805, 1637)]:
        ftext(fig, x, y, '1s', fontsize=15, ha='center', va='center')

    fig.savefig('out.png', dpi=100)


if __name__ == '__main__':
    main()
